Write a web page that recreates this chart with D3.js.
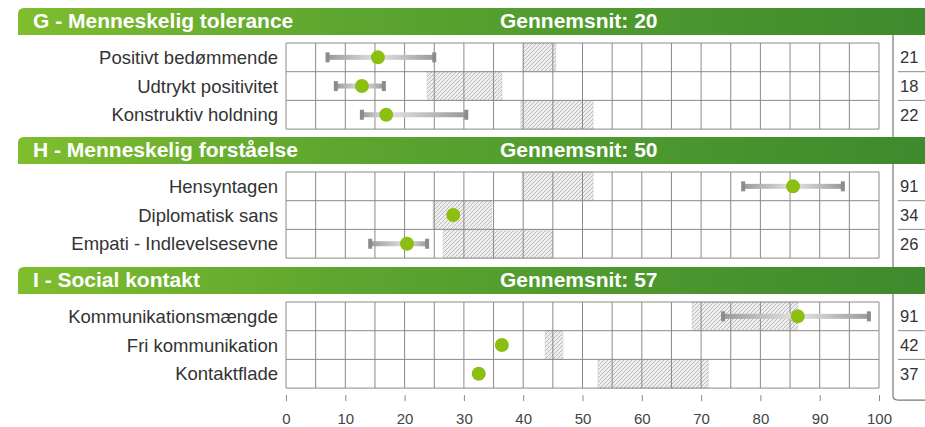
<!DOCTYPE html>
<html>
<head>
<meta charset="utf-8">
<title>Profil</title>
<script src="https://cdn.jsdelivr.net/npm/d3@7"></script>
<style>
  body { margin: 0; background: #fff; }
  text { font-family: "Liberation Sans", Arial, sans-serif; }
</style>
</head>
<body>
<svg width="925" height="427"></svg>
<script>
// data
const groups = ['G - Menneskelig tolerance', 'H - Menneskelig forståelse', 'I - Social kontakt'];
const averages = [20, 50, 57];
const labels = [
  ['Positivt bedømmende', 'Udtrykt positivitet', 'Konstruktiv holdning'],
  ['Hensyntagen', 'Diplomatisk sans', 'Empati - Indlevelsesevne'],
  ['Kommunikationsmængde', 'Fri kommunikation', 'Kontaktflade']
];
const dots = [[15.5, 12.8, 16.9], [85.5, 28.2, 20.4], [86.3, 36.4, 32.5]];
const errLow = [[7, 8.4, 12.8], [77.1, null, 14.2], [73.7, null, null]];
const errHigh = [[25, 16.5, 30.4], [93.9, null, 23.8], [98.3, null, null]];
const bandLow = [[40, 23.8, 39.6], [39.8, 24.8, 26.5], [68.5, 43.7, 52.6]];
const bandHigh = [[45.5, 36.4, 51.8], [51.8, 34.7, 44.9], [86.3, 46.7, 71.2]];
const scores = [[21, 18, 22], [91, 34, 26], [91, 42, 37]];
const ticks = [0, 10, 20, 30, 40, 50, 60, 70, 80, 90, 100];

const svg = d3.select('svg');
const x = d3.scaleLinear().domain([0, 100]).range([286, 879]);
const gridTops = [43, 172, 302];
const rowH = 28.7;

const defs = svg.append('defs');
const hg = defs.append('linearGradient').attr('id', 'hdr');
hg.append('stop').attr('offset', '0%').attr('stop-color', '#80bd2e');
hg.append('stop').attr('offset', '35%').attr('stop-color', '#5da62f');
hg.append('stop').attr('offset', '100%').attr('stop-color', '#3e8a2d');

const pat = defs.append('pattern').attr('id', 'hatch')
  .attr('patternUnits', 'userSpaceOnUse').attr('width', 4).attr('height', 4);
pat.append('rect').attr('width', 4).attr('height', 4).attr('fill', '#eeeeee');
pat.append('path').attr('d', 'M-1,1 l2,-2 M0,4 l4,-4 M3,5 l2,-2')
  .attr('stroke', '#b0b0b0').attr('stroke-width', 0.8);

['L', 'R'].forEach(s => {
  const g = defs.append('linearGradient').attr('id', 'err' + s);
  g.append('stop').attr('offset', '0%').attr('stop-color', s === 'L' ? '#9a9a9a' : '#e4e4e4');
  g.append('stop').attr('offset', '100%').attr('stop-color', s === 'L' ? '#e4e4e4' : '#9a9a9a');
});

groups.forEach((name, gi) => {
  const top = gridTops[gi];
  const y = d3.scaleBand().domain(d3.range(3)).range([top, top + rowH * 3]);
  const g = svg.append('g');

  // header bar
  g.append('path')
    .attr('d', `M925,${top - 35} H24 Q18,${top - 35} 18,${top - 29} V${top - 8} H925 Z`)
    .attr('fill', 'url(#hdr)');
  g.append('text').attr('x', 33).attr('y', top - 15)
    .attr('fill', '#fff').attr('font-size', 21).attr('font-weight', 'bold').text(name);
  g.append('text').attr('x', 500).attr('y', top - 15)
    .attr('fill', '#fff').attr('font-size', 21).attr('font-weight', 'bold')
    .text('Gennemsnit: ' + averages[gi]);

  // hatched bands
  g.selectAll('.band').data(d3.range(3)).enter().append('rect')
    .attr('x', i => x(bandLow[gi][i]))
    .attr('y', i => y(i))
    .attr('width', i => x(bandHigh[gi][i]) - x(bandLow[gi][i]))
    .attr('height', rowH)
    .attr('fill', 'url(#hatch)')
    .attr('stroke', '#bbb').attr('stroke-dasharray', '1,1').attr('stroke-width', 0.8);

  // grid
  g.selectAll('.vl').data(d3.range(0, 101, 5)).enter().append('line')
    .attr('x1', d => x(d)).attr('x2', d => x(d))
    .attr('y1', top).attr('y2', top + rowH * 3)
    .attr('stroke', '#8a8a8a').attr('stroke-width', 1);
  g.selectAll('.hl').data(d3.range(4)).enter().append('line')
    .attr('x1', x(0)).attr('x2', x(100))
    .attr('y1', i => top + i * rowH).attr('y2', i => top + i * rowH)
    .attr('stroke', '#8a8a8a').attr('stroke-width', 1);

  // error bars
  d3.range(3).forEach(i => {
    if (errLow[gi][i] == null) return;
    const cy = y(i) + rowH / 2;
    g.append('rect').attr('x', x(errLow[gi][i])).attr('y', cy - 2.5)
      .attr('width', x(dots[gi][i]) - x(errLow[gi][i])).attr('height', 5).attr('fill', 'url(#errL)');
    g.append('rect').attr('x', x(dots[gi][i])).attr('y', cy - 2.5)
      .attr('width', x(errHigh[gi][i]) - x(dots[gi][i])).attr('height', 5).attr('fill', 'url(#errR)');
    [errLow[gi][i], errHigh[gi][i]].forEach(v => {
      g.append('rect').attr('x', x(v) - 2).attr('y', cy - 5)
        .attr('width', 4).attr('height', 10).attr('fill', '#8c8c8c');
    });
  });

  // dots
  g.selectAll('.dot').data(d3.range(3)).enter().append('circle')
    .attr('cx', i => x(dots[gi][i]))
    .attr('cy', i => y(i) + rowH / 2)
    .attr('r', 7)
    .attr('fill', '#8dbf12');

  // row labels
  g.selectAll('.lbl').data(labels[gi]).enter().append('text')
    .attr('x', 278).attr('y', (d, i) => y(i) + rowH / 2 + 6.5)
    .attr('text-anchor', 'end').attr('font-size', 18.5).attr('fill', '#333')
    .text(d => d);

  // score box
  const bottom = top + rowH * 3 + 2;
  if (gi === 2) {
    g.append('path').attr('d', `M893,${top - 8} V${bottom + 6} Q893,${bottom + 10} 898,${bottom + 10} H925`)
      .attr('fill', 'none').attr('stroke', '#777').attr('stroke-width', 1.2);
  } else {
    g.append('line').attr('x1', 893).attr('x2', 893).attr('y1', top - 8).attr('y2', bottom + 8)
      .attr('stroke', '#777').attr('stroke-width', 1.2);
  }
  g.selectAll('.sep').data([1, 2]).enter().append('line')
    .attr('x1', 898).attr('x2', 925)
    .attr('y1', i => top + i * rowH).attr('y2', i => top + i * rowH)
    .attr('stroke', '#888').attr('stroke-width', 1);
  g.selectAll('.score').data(scores[gi]).enter().append('text')
    .attr('x', 900).attr('y', (d, i) => y(i) + rowH / 2 + 6)
    .attr('font-size', 16.5).attr('fill', '#333').text(d => d);
});

// axis
const axisY = gridTops[2] + rowH * 3;
const axis = svg.append('g').attr('transform', `translate(0,${axisY + 7})`)
  .call(d3.axisBottom(x).tickValues(ticks).tickSize(6).tickPadding(12));
axis.select('.domain').remove();
axis.selectAll('line').attr('stroke', '#888');
axis.selectAll('text').attr('font-size', 15).attr('fill', '#444')
  .attr('font-family', '"Liberation Sans", Arial, sans-serif');
</script>
</body>
</html>
